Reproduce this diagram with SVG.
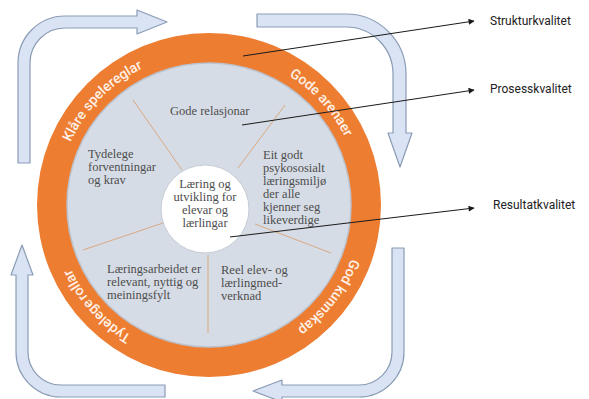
<svg xmlns="http://www.w3.org/2000/svg" xmlns:xlink="http://www.w3.org/1999/xlink" width="589" height="399" viewBox="0 0 589 399">
<style>
.cyc{fill:#dae3f3;stroke:#8a9cb6;stroke-width:1.2;stroke-linejoin:round}
.spoke{stroke:#d9a982;stroke-width:1}
.sec{font-family:"Liberation Serif","DejaVu Serif",serif;font-size:12.5px;fill:#4d4d4d}
.ring{font-family:Roboto,"Liberation Sans",sans-serif;font-size:14px;font-weight:500;fill:#fff1e7}
.lab{font-family:Roboto,"Liberation Sans",sans-serif;font-size:12px;fill:#222}
.con{stroke:#1a1a1a;stroke-width:1;fill:none;marker-end:url(#ah)}
</style>
<defs>
<marker id="ah" viewBox="0 0 10 10" refX="9" refY="5" markerWidth="7" markerHeight="6" markerUnits="userSpaceOnUse" orient="auto">
<path d="M0,0 L10,5 L0,10 Z" fill="#1a1a1a"/>
</marker>
<path id="rp" d="M361,205 A152,152 0 1 1 57,205 A152,152 0 1 1 361,205"/>
</defs>
<rect width="589" height="399" fill="#fff"/>
<g id="cycle-arrows">
<path id="arrow-top-left" class="cyc" d="M18,163 L18,63 A47,47 0 0 1 65,16 L137,16 L137,10 L167,22 L137,34 L137,28 L65,28 A35,35 0 0 0 30,63 L30,163 Z"/>
<path id="arrow-top-right" class="cyc" d="M257,14 L346,14 A60,60 0 0 1 406,74 L406,133 L412,133 L400,167 L388,133 L393,133 L393,74 A47,47 0 0 0 346,27 L257,27 Z"/>
<path id="arrow-bottom-right" class="cyc" d="M392,248 L404,248 L404,352 A45,45 0 0 1 359,397 L282,397 L282,402 L253,391 L282,380 L282,385 L359,385 A33,33 0 0 0 392,352 Z"/>
<path id="arrow-bottom-left" class="cyc" d="M165,385 L61,385 A33,33 0 0 1 28,352 L28,275 L33,275 L22,245 L11,275 L16,275 L16,352 A45,45 0 0 0 61,397 L165,397 Z"/>
</g>
<g id="ring">
<circle cx="209" cy="205" r="172" fill="#ed7d31"/>
<text class="ring"><textPath xlink:href="#rp" href="#rp" startOffset="99.5" text-anchor="middle">God kunnskap</textPath></text>
<text class="ring"><textPath xlink:href="#rp" href="#rp" startOffset="320">Tydelege</textPath></text>
<text class="ring"><textPath xlink:href="#rp" href="#rp" startOffset="379">rollar</textPath></text>
<text class="ring"><textPath xlink:href="#rp" href="#rp" startOffset="594.8" text-anchor="middle">Klåre spelereglar</textPath></text>
<text class="ring"><textPath xlink:href="#rp" href="#rp" startOffset="842.3" text-anchor="middle">Gode arenaer</textPath></text>
</g>
<g id="disk">
<circle cx="209" cy="205" r="142" fill="#d6dce5" stroke="#bcc3ce" stroke-width="1.5"/>
<line class="spoke" x1="133" y1="100" x2="182" y2="170"/>
<line class="spoke" x1="285" y1="105" x2="238" y2="168"/>
<line class="spoke" x1="83" y1="250" x2="163" y2="223"/>
<line class="spoke" x1="208" y1="255" x2="208" y2="333"/>
<line class="spoke" x1="255" y1="224" x2="331" y2="253"/>
</g>
<g id="sec-relasjonar"><text class="sec" x="170" y="115">Gode relasjonar</text></g>
<g id="sec-forventningar"><text class="sec" x="88" y="158">Tydelege<tspan x="88" y="171">forventningar</tspan><tspan x="88" y="184">og krav</tspan></text></g>
<g id="sec-miljo"><text class="sec" x="263" y="159">Eit godt<tspan x="263" y="172">psykososialt</tspan><tspan x="263" y="185">læringsmiljø</tspan><tspan x="263" y="198">der alle</tspan><tspan x="263" y="211">kjenner seg</tspan><tspan x="263" y="224">likeverdige</tspan></text></g>
<g id="sec-laeringsarbeid"><text class="sec" x="107" y="273">Læringsarbeidet er<tspan x="107" y="286">relevant, nyttig og</tspan><tspan x="107" y="299">meiningsfylt</tspan></text></g>
<g id="sec-medverknad"><text class="sec" x="221" y="274">Reel elev- og<tspan x="221" y="287">lærlingmed-</tspan><tspan x="221" y="300">verknad</tspan></text></g>
<g id="centre">
<circle cx="205" cy="209" r="44" fill="#fff" stroke="#c5cbd4" stroke-width="1"/>
<text class="sec" text-anchor="middle" x="205" y="188">Læring og<tspan x="205" y="201">utvikling for</tspan><tspan x="205" y="214">elevar og</tspan><tspan x="205" y="227">lærlingar</tspan></text>
</g>
<g id="connectors">
<path class="con" d="M243,56 L474,21"/>
<path class="con" d="M242,125 L474,90"/>
<path class="con" d="M230,237 L474,208"/>
</g>
<g id="label-struktur"><text class="lab" x="490" y="25">Strukturkvalitet</text></g>
<g id="label-prosess"><text class="lab" x="490" y="93">Prosesskvalitet</text></g>
<g id="label-resultat"><text class="lab" x="493" y="209">Resultatkvalitet</text></g>
</svg>
